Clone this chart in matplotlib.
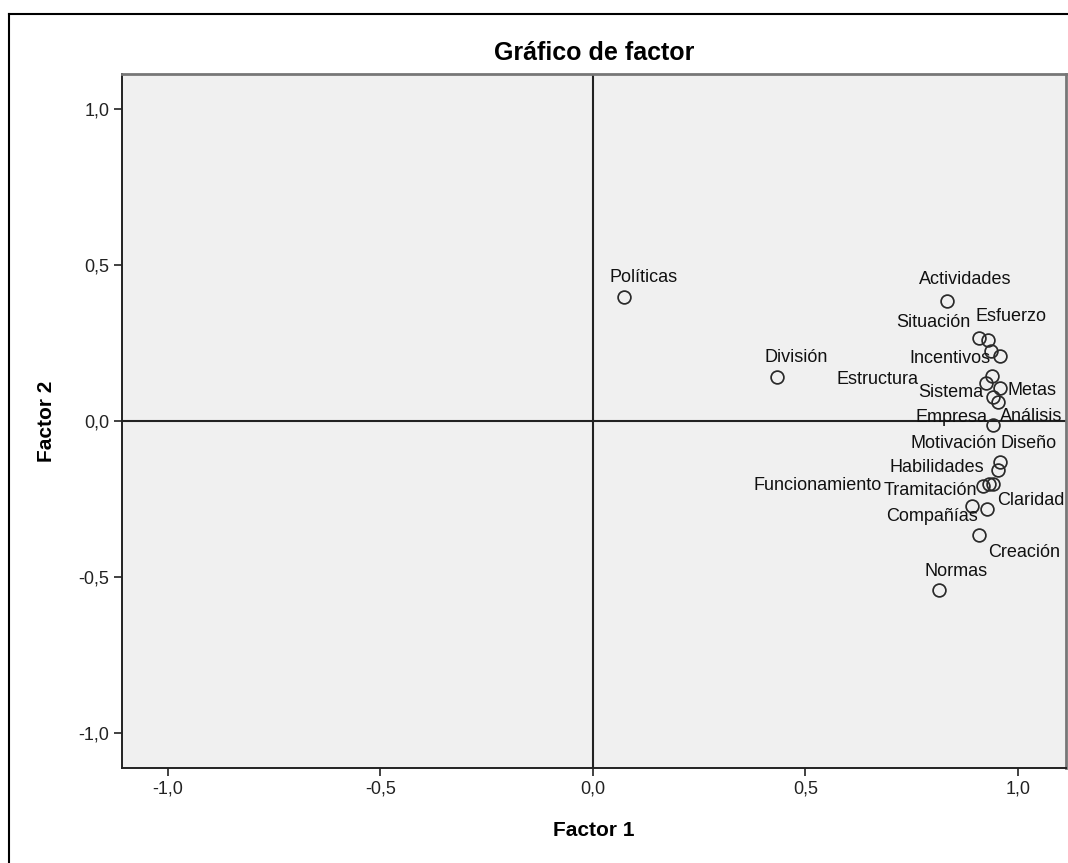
import matplotlib
matplotlib.use('Agg')
import matplotlib.pyplot as plt
from matplotlib.lines import Line2D

plt.rcParams['font.family'] = ['Liberation Sans', 'DejaVu Sans']

# factor loadings (rotated), one entry per variable; '' = point drawn without a label
names = ['Políticas', 'División', 'Actividades', 'Situación', 'Esfuerzo', '',
         'Incentivos', '', 'Estructura', 'Metas', 'Sistema', 'Análisis',
         'Empresa', 'Diseño', 'Motivación', 'Tramitación', 'Habilidades',
         'Funcionamiento', 'Compañías', 'Claridad', 'Creación', 'Normas']
factor1 = [0.073, 0.433, 0.833, 0.908, 0.929, 0.936, 0.958, 0.939, 0.925, 0.958, 0.941,
           0.953, 0.941, 0.958, 0.953, 0.918, 0.932, 0.941, 0.892, 0.927, 0.908, 0.814]
factor2 = [0.397, 0.141, 0.385, 0.266, 0.260, 0.224, 0.208, 0.144, 0.122, 0.106, 0.077,
           0.061, -0.013, -0.131, -0.157, -0.208, -0.202, -0.202, -0.272, -0.282, -0.365, -0.542]
ticks = [-1.0, -0.5, 0.0, 0.5, 1.0]
tick_labels = ['-1,0', '-0,5', '0,0', '0,5', '1,0']

# where each label sits relative to its point (pixels, x right / y down, alignment)
label_pos = [(-14, -20, 'left'), (-12, -20, 'left'), (-28, -21, 'left'), (-8, -15, 'right'),
             (-12, -23, 'left'), (0, 0, 'left'), (-10, 2, 'right'), (0, 0, 'left'),
             (-68, -3, 'right'), (7, 3, 'left'), (-10, -4, 'right'), (2, 15, 'left'),
             (-5, -8, 'right'), (0, -18, 'left'), (-1, -26, 'right'), (-6, 5, 'right'),
             (-5, -17, 'right'), (-111, 1, 'right'), (6, 11, 'right'), (10, -8, 'left'),
             (9, 18, 'left'), (-14, -19, 'left')]

fig = plt.figure(figsize=(10.68, 8.63), dpi=100)
ax = fig.add_axes([122 / 1068, 1 - 768 / 863, (1066 - 122) / 1068, (768 - 74) / 863])
ax.set_facecolor('#f0f0f0')

# outer frame of the chart area
fig.add_artist(Line2D([9 / 1068, 9 / 1068], [0, 1 - 14 / 863], transform=fig.transFigure,
                      color='black', lw=1.5))
fig.add_artist(Line2D([9 / 1068, 1], [1 - 14 / 863, 1 - 14 / 863], transform=fig.transFigure,
                      color='black', lw=1.5))

ax.axhline(0, color='#222222', lw=1.5, zorder=1)
ax.axvline(0, color='#222222', lw=1.5, zorder=1)

ax.plot(factor1, factor2, 'o', markersize=9.2, markerfacecolor='none',
        markeredgecolor='#2a2a2a', markeredgewidth=1.25, zorder=3)

for name, x, y, (dx, dy, ha) in zip(names, factor1, factor2, label_pos):
    if name:
        ax.annotate(name, (x, y), xytext=(dx, -dy), textcoords='offset pixels',
                    ha=ha, va='center', fontsize=13, color='#111111', zorder=4,
                    annotation_clip=False)

ax.set_xlim(-1.108, 1.113)
ax.set_ylim(-1.112, 1.112)
ax.set_xticks(ticks)
ax.set_xticklabels(tick_labels)
ax.set_yticks(ticks)
ax.set_yticklabels(tick_labels)
ax.tick_params(direction='out', length=6, width=1.3, color='#333333',
               labelsize=13, labelcolor='#222222', pad=3)

for side in ['left', 'bottom']:
    ax.spines[side].set_color('#222222')
    ax.spines[side].set_linewidth(1.4)
for side in ['top', 'right']:
    ax.spines[side].set_color('#777777')
    ax.spines[side].set_linewidth(2)

ax.set_title('Gráfico de factor', fontsize=18, fontweight='bold', pad=10)
ax.set_xlabel('Factor 1', fontsize=15, fontweight='bold', labelpad=17)
ax.set_ylabel('Factor 2', fontsize=15, fontweight='bold', labelpad=16)

fig.savefig('out.png', dpi=100, facecolor='white')
